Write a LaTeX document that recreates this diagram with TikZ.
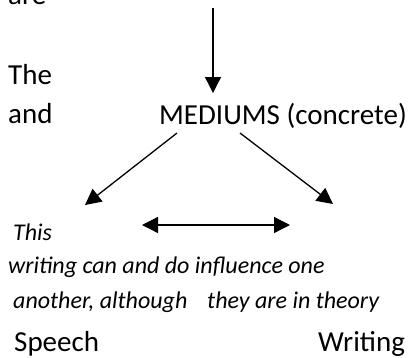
\documentclass[tikz,border=0pt]{standalone}
\usepackage{fontspec}
\setmainfont{Carlito}
\usetikzlibrary{arrows.meta}
\tikzset{
  txt/.style={anchor=base west, inner sep=0pt, font=\fontsize{29bp}{34bp}\selectfont},
  itxt/.style={txt, font=\fontsize{24bp}{30bp}\selectfont\itshape},
  conn/.style={-{Triangle[length=16bp,width=16bp]}, line width=1.3bp},
  dconn/.style={{Triangle[length=16bp,width=16bp]}-{Triangle[length=16bp,width=16bp]}, line width=1.3bp}
}
\begin{document}
\begin{tikzpicture}[x=1bp, y=-1bp]
    \useasboundingbox (0,0) rectangle (409,358);

    \node[txt] (are) at (8,4) {are};
    \node[txt] (the) at (8,84) {The};
    \node[txt] (and) at (8,123) {and};
    \node[txt] (mediums) at (159,124) {MEDIUMS (concrete)};

    \node[itxt] (this) at (13,240) {This};
    \node[itxt] (writing) at (8,273) {writing can and do influence one};
    \node[itxt] (another) at (13,308) {another, although\hspace{0.6em} they are in theory};

    \node[txt] (speech) at (14,351) {Speech};
    \node[txt] (wrtg) at (318,351) {Writing};

    % arrow ends
    \coordinate (top) at (213,8);
    \coordinate (mtop) at (213,93);
    \coordinate (mleft) at (177,133);
    \coordinate (mright) at (240,133);
    \coordinate (sp) at (85,205);
    \coordinate (wr) at (333,204);
    \coordinate (hl) at (142,225);
    \coordinate (hr) at (290,225);

    \draw[conn] (top) -- (mtop);
    \draw[conn] (mleft) -- (sp);
    \draw[conn] (mright) -- (wr);
    \draw[dconn] (hl) -- (hr);
\end{tikzpicture}
\end{document}
